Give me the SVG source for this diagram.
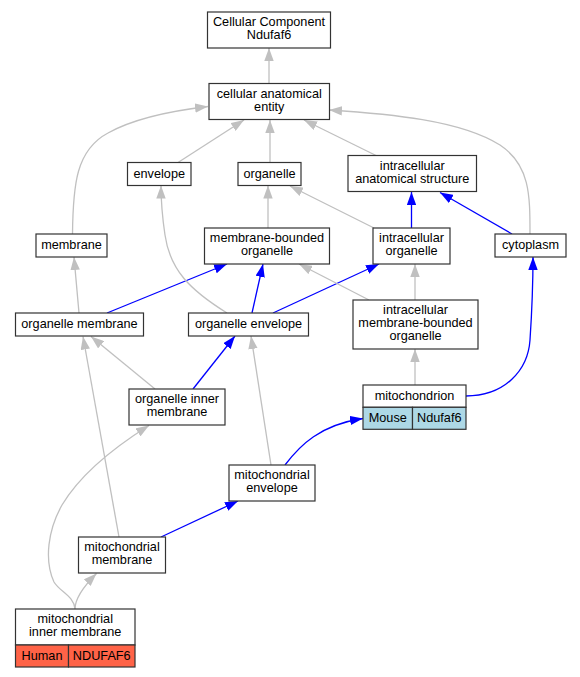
<svg xmlns="http://www.w3.org/2000/svg" width="580" height="677" viewBox="0 0 580 677">
<style>
  text { font-family: "Liberation Sans", Arial, sans-serif; font-size: 12.7px; fill: #000; text-anchor: middle; }
  .box { fill: #fff; stroke: #333; stroke-width: 1.2; }
  .mouse { fill: #add8e6; stroke: #333; stroke-width: 1.2; }
  .human { fill: #ff6347; stroke: #333; stroke-width: 1.2; }
  .g { fill: none; stroke: #c0c0c0; stroke-width: 1.3; marker-end: url(#ag); }
  .b { fill: none; stroke: #0000ff; stroke-width: 1.3; marker-end: url(#ab); }
</style>
<defs>
  <marker id="ag" markerUnits="userSpaceOnUse" viewBox="0 0 13 9.4" markerWidth="13" markerHeight="9.4" refX="13" refY="4.7" orient="auto">
    <path d="M0,0 L13,4.7 L0,9.4 z" fill="#c0c0c0"/>
  </marker>
  <marker id="ab" markerUnits="userSpaceOnUse" viewBox="0 0 13 9.4" markerWidth="13" markerHeight="9.4" refX="13" refY="4.7" orient="auto">
    <path d="M0,0 L13,4.7 L0,9.4 z" fill="#0000ff"/>
  </marker>
</defs>
<rect width="580" height="677" fill="#fff"/>
<g id="connectors">
  <path class="g" d="M269,83.5 L269,48"/>
  <path class="g" d="M178,162.5 L244,120"/>
  <path class="g" d="M270,162.5 L270,120"/>
  <path class="g" d="M376,155.5 L304,120"/>
  <path class="g" d="M72.5,234 C73,185 76,150 108,133 C133,119 170,111 208,106.5"/>
  <path class="g" d="M530,234 C530,195 530,165 500,145 C460,120 390,114 329,110"/>
  <path class="g" d="M268,228 L268,185.5"/>
  <path class="g" d="M374,228 L290,186"/>
  <path class="b" d="M411.5,228 L411.5,192"/>
  <path class="b" d="M512,234 L440,192.5"/>
  <path class="g" d="M79,313 L74,257"/>
  <path class="b" d="M107,313 L227,264"/>
  <path class="g" d="M227,313 C190,290 170,270 165,235 C162,215 161,200 161,185.5"/>
  <path class="b" d="M252,313 L263,264"/>
  <path class="b" d="M273,313 L379,264"/>
  <path class="g" d="M369,300 L299,264"/>
  <path class="g" d="M415,300 L415,264"/>
  <path class="g" d="M415,385 L415,349"/>
  <path class="b" d="M466,396 C505,396 528,370 530,340 C532,310 533,280 533,257"/>
  <path class="g" d="M155,389 L91,336.5"/>
  <path class="b" d="M193,389 L235,336"/>
  <path class="g" d="M271,465 L251,336"/>
  <path class="b" d="M285,465 C300,445 320,425 363,418.5"/>
  <path class="b" d="M161,537 L238,501"/>
  <path class="g" d="M119,537 L83,336.5"/>
  <path class="g" d="M75,609 C74,596 60,592 54,582 C44,560 48,530 62,505 C80,475 110,450 149,425.5"/>
  <path class="g" d="M75,609 C75,598 85,585 96.5,573.5"/>
</g>
<g id="n_cc">
  <rect class="box" x="207.5" y="12" width="123" height="36"/>
  <text x="269" y="26">Cellular Component</text>
  <text x="269" y="39">Ndufaf6</text>
</g>
<g id="n_cae">
  <rect class="box" x="209" y="83.5" width="120.5" height="36"/>
  <text x="269.25" y="97.5">cellular anatomical</text>
  <text x="269.25" y="110.5">entity</text>
</g>
<g id="n_envelope">
  <rect class="box" x="127.5" y="162.5" width="63.5" height="23"/>
  <text x="159.25" y="177.5">envelope</text>
</g>
<g id="n_organelle">
  <rect class="box" x="238" y="162.5" width="63" height="23"/>
  <text x="269.5" y="177.5">organelle</text>
</g>
<g id="n_ias">
  <rect class="box" x="348" y="155.5" width="128.5" height="36"/>
  <text x="412.25" y="169.5">intracellular</text>
  <text x="412.25" y="182.5">anatomical structure</text>
</g>
<g id="n_membrane">
  <rect class="box" x="36" y="234" width="71" height="23"/>
  <text x="71.5" y="249">membrane</text>
</g>
<g id="n_mbo">
  <rect class="box" x="204.5" y="228" width="125" height="36"/>
  <text x="267" y="242">membrane-bounded</text>
  <text x="267" y="255">organelle</text>
</g>
<g id="n_io">
  <rect class="box" x="373" y="228" width="77" height="36"/>
  <text x="411.5" y="242">intracellular</text>
  <text x="411.5" y="255">organelle</text>
</g>
<g id="n_cytoplasm">
  <rect class="box" x="495" y="234" width="71" height="23"/>
  <text x="530.5" y="249">cytoplasm</text>
</g>
<g id="n_om">
  <rect class="box" x="15.5" y="313" width="128" height="23"/>
  <text x="79.5" y="328">organelle membrane</text>
</g>
<g id="n_oe">
  <rect class="box" x="188.5" y="313" width="120" height="23"/>
  <text x="248.5" y="328">organelle envelope</text>
</g>
<g id="n_imbo">
  <rect class="box" x="353" y="300" width="125" height="49"/>
  <text x="415.5" y="313.7">intracellular</text>
  <text x="415.5" y="327">membrane-bounded</text>
  <text x="415.5" y="340.3">organelle</text>
</g>
<g id="n_oim">
  <rect class="box" x="129" y="389" width="96" height="36"/>
  <text x="177" y="403">organelle inner</text>
  <text x="177" y="416">membrane</text>
</g>
<g id="n_mito">
  <rect class="box" x="363" y="385" width="103" height="22.3"/>
  <rect class="mouse" x="363" y="407.3" width="49.5" height="22"/>
  <rect class="mouse" x="412.5" y="407.3" width="53.5" height="22"/>
  <text x="414.5" y="399.8">mitochondrion</text>
  <text x="387.75" y="422">Mouse</text>
  <text x="439.25" y="422">Ndufaf6</text>
</g>
<g id="n_me">
  <rect class="box" x="229" y="465" width="86" height="36"/>
  <text x="272" y="479">mitochondrial</text>
  <text x="272" y="492">envelope</text>
</g>
<g id="n_mm">
  <rect class="box" x="78.5" y="537" width="87" height="36"/>
  <text x="122" y="551">mitochondrial</text>
  <text x="122" y="564">membrane</text>
</g>
<g id="n_mim">
  <rect class="box" x="15.5" y="609" width="119.5" height="36"/>
  <rect class="human" x="15.5" y="645" width="53" height="22"/>
  <rect class="human" x="68.5" y="645" width="66.5" height="22"/>
  <text x="75.25" y="623">mitochondrial</text>
  <text x="75.25" y="636">inner membrane</text>
  <text x="42" y="659.5">Human</text>
  <text x="101.75" y="659.5">NDUFAF6</text>
</g>
</svg>
